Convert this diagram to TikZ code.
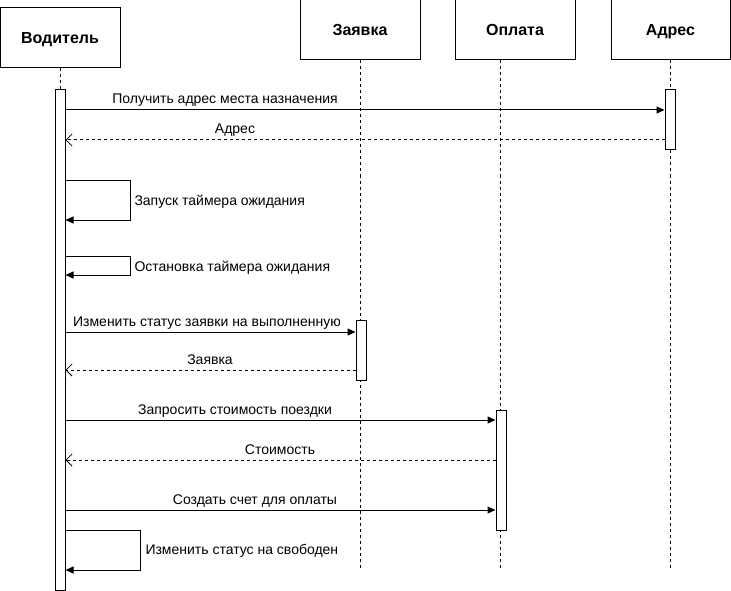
\documentclass[tikz,border=0pt]{standalone}
\usepackage{fontspec}
\setmainfont{Liberation Sans}
\usetikzlibrary{arrows.meta}

\begin{document}
\begin{tikzpicture}[x=1pt,y=-1pt,line width=1pt,
  head/.style={draw,minimum width=120pt,minimum height=60pt,inner sep=0pt,text height=13pt,text depth=2pt,font=\fontsize{16}{18}\selectfont\bfseries},
  bar/.style={draw,fill=white,minimum width=10pt,inner sep=0pt},
  life/.style={dash pattern=on 3pt off 3pt,line width=0.8pt},
  call/.style={-{Triangle[length=8pt,width=7pt]}},
  reply/.style={dash pattern=on 3pt off 3pt,-{Straight Barb[length=6pt,width=12pt,line width=0.8pt]}},
  lbl/.style={inner sep=0pt,text height=10.5pt,text depth=2.5pt,font=\fontsize{14}{16}\selectfont}]
  \useasboundingbox (0,0) rectangle (731,591);
  % participants
  \node[head] (drv) at (60,38) {Водитель};
  \node[head] (ord) at (360,30) {Заявка};
  \node[head] (pay) at (515,30) {Оплата};
  \node[head,minimum width=119pt] (adr) at (670.5,30) {Адрес};
  \coordinate (ordend) at (360,570);
  \coordinate (payend) at (500,570);
  \coordinate (adrend) at (670,570);
  % lifelines
  \draw[life] (ord.south) -- (ordend);
  \draw[life] (pay.south -| payend) -- (payend);
  \draw[life] (adr.south -| adrend) -- (adrend);
  % activations
  \node[bar,minimum height=500pt] (drvbar) at (60,340) {};
  \node[bar,minimum height=60pt] (adrbar) at (670,120) {};
  \node[bar,minimum height=60pt] (ordbar) at (361,350) {};
  \node[bar,minimum height=120pt] (paybar) at (501,470) {};
  \draw[life] (drv.south) -- (drvbar.north);
  % messages
  \draw[call] (drvbar.east |- 0,110) -- (adrbar.west |- 0,110);
  \node[lbl] (l1) at (225,100) {Получить адрес места назначения};
  \draw[reply] (adrbar.west |- 0,140) -- (drvbar.east |- 0,140);
  \node[lbl] (l2) at (235,130) {Адрес};
  \draw[call] (drvbar.east |- 0,180) -- ++(65,0) |- (drvbar.east |- 0,220);
  \node[lbl,anchor=west] (l3) at (134,201) {Запуск таймера ожидания};
  \draw[call] (drvbar.east |- 0,256) -- ++(65,0) |- (drvbar.east |- 0,275);
  \node[lbl,anchor=west] (l4) at (134,267) {Остановка таймера ожидания};
  \draw[call] (drvbar.east |- 0,332) -- (ordbar.west |- 0,332);
  \node[lbl] (l5) at (207,322) {Изменить статус заявки на выполненную};
  \draw[reply] (ordbar.west |- 0,370) -- (drvbar.east |- 0,370);
  \node[lbl] (l6) at (210,360) {Заявка};
  \draw[call] (drvbar.east |- 0,420) -- (paybar.west |- 0,420);
  \node[lbl] (l7) at (235,410) {Запросить стоимость поездки};
  \draw[reply] (paybar.west |- 0,460) -- (drvbar.east |- 0,460);
  \node[lbl] (l8) at (280,450) {Стоимость};
  \draw[call] (drvbar.east |- 0,510) -- (paybar.west |- 0,510);
  \node[lbl] (l9) at (255,500) {Создать счет для оплаты};
  \draw[call] (drvbar.east |- 0,530) -- ++(75,0) |- (drvbar.east |- 0,570);
  \node[lbl,anchor=west] (l10) at (145,550) {Изменить статус на свободен};
\end{tikzpicture}
\end{document}
